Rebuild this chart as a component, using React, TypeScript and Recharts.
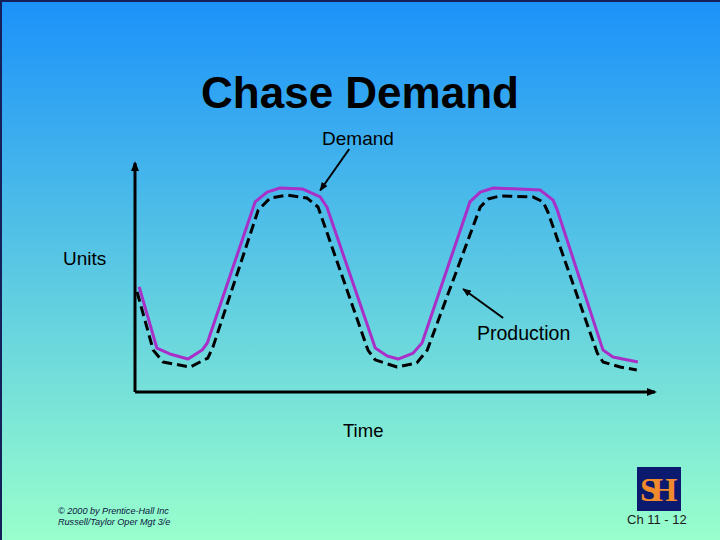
import React from 'react';
import { LineChart, Line, XAxis, YAxis, ReferenceLine } from 'recharts';

// Demand curve (time, units)
const demandTime = [0.8, 4.2, 6.7, 10.2, 12.9, 13.9, 23.1, 25.4, 27.9, 32.3, 35.6, 36.9, 46.2, 48.5, 50.6, 53.5, 55.2, 64.4, 66.4, 68.9, 77.9, 80.4, 81.2, 90.0, 91.9, 96.7];
const demandUnits = [45.9, 19.2, 16.6, 14.4, 18.3, 21.4, 83.0, 87.3, 89.1, 88.6, 85.2, 80.8, 19.2, 15.7, 14.4, 17.0, 21.4, 83.0, 87.3, 89.1, 88.2, 83.8, 79.5, 18.3, 15.3, 13.1];

// Production curve (time, units)
const productionTime = [0.4, 3.5, 5.4, 10.6, 14.0, 15.0, 23.7, 26.0, 29.2, 33.1, 35.2, 44.8, 46.2, 50.4, 54.2, 56.2, 66.4, 67.9, 70.2, 76.5, 78.5, 79.4, 88.9, 90.0, 93.3, 96.5];
const productionUnits = [43.7, 18.3, 13.1, 10.9, 14.8, 19.7, 79.5, 84.7, 86.0, 84.7, 80.8, 18.3, 14.0, 10.9, 12.7, 18.3, 80.8, 84.3, 85.6, 85.2, 83.0, 78.6, 17.0, 13.1, 10.9, 9.6];

// Axes (origin to arrow tip) and annotation arrows (from, to) in chart units
const xAxisSegment = [{ x: 0, y: 0 }, { x: 100, y: 0 }];
const yAxisSegment = [{ x: 0, y: 0 }, { x: 0, y: 100 }];
const demandArrow = [{ x: 41.2, y: 106.1 }, { x: 35.6, y: 88.0 }];
const productionArrow = [{ x: 70.8, y: 32.3 }, { x: 63.1, y: 45.0 }];

const demandData = demandTime.map((t, i) => ({ t, u: demandUnits[i] }));
const productionData = productionTime.map((t, i) => ({ t, u: productionUnits[i] }));

const FONT = '"Liberation Sans", Arial, Helvetica, sans-serif';
const SERIF = '"Liberation Serif", "DejaVu Serif", serif';

export default function App() {
  return (
    <div style={{ position: 'absolute', left: 0, top: 0, width: 720, height: 540, overflow: 'hidden' }}>
      <div
        style={{
          position: 'absolute',
          left: 0,
          top: 0,
          width: 720,
          height: 540,
          background: 'linear-gradient(to bottom, #1c92fa 0%, #99ffcc 100%)',
          boxSizing: 'border-box',
          borderTop: '2px solid #14205a',
          borderLeft: '2px solid #14205a',
        }}
      />
      <svg width={0} height={0} style={{ position: 'absolute' }}>
        <defs>
          <marker id="axArrow" viewBox="0 0 10 8" refX={8} refY={4} markerWidth={10} markerHeight={8} markerUnits="userSpaceOnUse" orient="auto">
            <path d="M0,0 L10,4 L0,8 z" fill="#000" />
          </marker>
          <marker id="noteArrow" viewBox="0 0 10 8" refX={9} refY={4} markerWidth={9} markerHeight={7} markerUnits="userSpaceOnUse" orient="auto">
            <path d="M0,0 L10,4 L0,8 z" fill="#000" />
          </marker>
        </defs>
      </svg>
      <div style={{ position: 'absolute', left: 0, top: 0 }}>
        <LineChart width={720} height={540} margin={{ top: 163, right: 65, bottom: 148, left: 135 }}>
          <XAxis dataKey="t" type="number" domain={[0, 100]} allowDataOverflow hide />
          <YAxis dataKey="u" type="number" domain={[0, 100]} allowDataOverflow hide />
          <ReferenceLine
            segment={xAxisSegment}
            stroke="#000"
            strokeWidth={3}
            ifOverflow="visible"
            {...({ markerEnd: 'url(#axArrow)' } as any)}
          />
          <ReferenceLine
            segment={yAxisSegment}
            stroke="#000"
            strokeWidth={3}
            ifOverflow="visible"
            {...({ markerEnd: 'url(#axArrow)' } as any)}
          />
          <Line
            data={productionData}
            dataKey="u"
            type="linear"
            stroke="#000"
            strokeWidth={3}
            strokeDasharray="10 5"
            strokeLinejoin="round"
            dot={false}
            activeDot={false}
            isAnimationActive={false}
          />
          <Line
            data={demandData}
            dataKey="u"
            type="linear"
            stroke="#a82fc8"
            strokeWidth={3}
            strokeLinejoin="round"
            dot={false}
            activeDot={false}
            isAnimationActive={false}
          />
          <ReferenceLine
            segment={demandArrow}
            stroke="#000"
            strokeWidth={2}
            ifOverflow="visible"
            {...({ markerEnd: 'url(#noteArrow)' } as any)}
          />
          <ReferenceLine
            segment={productionArrow}
            stroke="#000"
            strokeWidth={2}
            ifOverflow="visible"
            {...({ markerEnd: 'url(#noteArrow)' } as any)}
          />
        </LineChart>
      </div>
      <svg width={720} height={540} style={{ position: 'absolute', left: 0, top: 0, pointerEvents: 'none' }}>
        <text x={360} y={108} textAnchor="middle" fontFamily={FONT} fontWeight="bold" fontSize={44} fill="#000">
          Chase Demand
        </text>
        <text x={358} y={145} textAnchor="middle" fontFamily={FONT} fontSize={19} fill="#000">
          Demand
        </text>
        <text x={63} y={265} fontFamily={FONT} fontSize={19} fill="#000">
          Units
        </text>
        <text x={477} y={340} fontFamily={FONT} fontSize={19.5} fill="#000">
          Production
        </text>
        <text x={343} y={437} fontFamily={FONT} fontSize={18.5} fill="#000">
          Time
        </text>
        <text x={58} y={514} fontFamily={FONT} fontStyle="italic" fontSize={9.1} fill="#0a1440">
          © 2000 by Prentice-Hall Inc
        </text>
        <text x={58} y={525} fontFamily={FONT} fontStyle="italic" fontSize={9.1} fill="#0a1440">
          Russell/Taylor  Oper Mgt 3/e
        </text>
        <rect x={637} y={467} width={44} height={44} fill="#0b1a6e" />
        <text x={640} y={501} fontFamily={SERIF} fontWeight="bold" fontSize={34} letterSpacing={-8} fill="#f08a2c">
          SH
        </text>
        <text x={627} y={524} fontFamily={FONT} fontSize={13} fill="#1a1a1a">
          Ch 11 - 12
        </text>
      </svg>
    </div>
  );
}
